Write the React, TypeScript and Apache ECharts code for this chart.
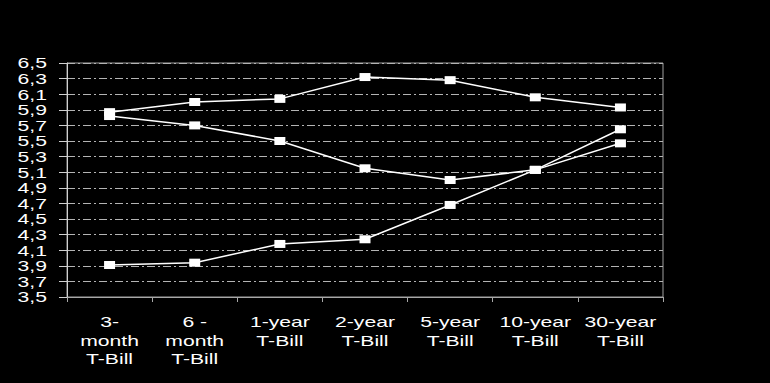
import React, { useEffect, useRef } from "react";
import * as echarts from "echarts";

// Maturities shown on the horizontal axis
const categories = [
  "3-\nmonth\nT-Bill",
  "6 -\nmonth\nT-Bill",
  "1-year\nT-Bill",
  "2-year\nT-Bill",
  "5-year\nT-Bill",
  "10-year\nT-Bill",
  "30-year\nT-Bill",
];

// Yield curves (percent)
const curveUpper = [5.87, 6.0, 6.04, 6.32, 6.28, 6.06, 5.93];
const curveMiddle = [5.82, 5.7, 5.5, 5.15, 5.0, 5.13, 5.47];
const curveLower = [3.91, 3.94, 4.18, 4.24, 4.68, 5.13, 5.65];

// Value axis tick labels (decimal comma)
const yTickLabels = [
  "3,5", "3,7", "3,9", "4,1", "4,3", "4,5", "4,7", "4,9",
  "5,1", "5,3", "5,5", "5,7", "5,9", "6,1", "6,3", "6,5",
];

const FONT_FAMILY = '"Liberation Sans", Arial, Helvetica, sans-serif';
const LABEL_STRETCH = 1.41;

export default function App() {
  const ref = useRef<HTMLDivElement>(null);

  useEffect(() => {
    if (!ref.current) return;
    const chart = echarts.init(ref.current, null, { renderer: "svg" });

    const lineSeries = (data: number[]) => ({
      type: "line",
      data,
      symbol: "rect",
      symbolSize: [11, 8],
      showSymbol: true,
      itemStyle: { color: "#ffffff" },
      lineStyle: { color: "#ffffff", width: 1.5 },
      emphasis: { disabled: true },
    });

    const gridLeft = 67;

    chart.setOption({
      animation: false,
      backgroundColor: "#000000",
      grid: {
        left: gridLeft,
        top: 63,
        width: 596,
        height: 234,
        show: true,
        borderColor: "#a0a0a0",
        borderWidth: 1,
        backgroundColor: "transparent",
      },
      xAxis: {
        type: "category",
        data: categories,
        boundaryGap: true,
        axisLine: { show: true, lineStyle: { color: "#a8a8a8", width: 1 } },
        axisTick: { show: true, length: 5, lineStyle: { color: "#a8a8a8" } },
        axisLabel: { show: false },
        splitLine: { show: false },
      },
      yAxis: {
        type: "value",
        min: 3.5,
        max: 6.5,
        interval: 0.2,
        axisLine: { show: true, lineStyle: { color: "#d0d0d0", width: 1 } },
        axisTick: { show: true, length: 8, lineStyle: { color: "#d0d0d0" } },
        axisLabel: { show: false },
        splitLine: {
          show: true,
          lineStyle: { color: "#b4b4b4", width: 1, type: [8, 3, 2, 3] },
        },
      },
      series: [
        lineSeries(curveUpper),
        lineSeries(curveMiddle),
        lineSeries(curveLower),
      ],
    });

    // Axis labels, drawn as horizontally stretched text at the axis positions
    const textStyle = {
      fill: "#ffffff",
      fontSize: 15,
      fontFamily: FONT_FAMILY,
    };

    const yLabelEls = yTickLabels.map((label) => {
      const value = parseFloat(label.replace(",", "."));
      const py = chart.convertToPixel({ yAxisIndex: 0 }, value) as number;
      return {
        type: "text",
        x: gridLeft - 20,
        y: py,
        scaleX: LABEL_STRETCH,
        silent: true,
        style: {
          ...textStyle,
          text: label,
          align: "right",
          textAlign: "right",
          verticalAlign: "middle",
          textVerticalAlign: "middle",
        },
      };
    });

    const axisBottom = chart.convertToPixel({ yAxisIndex: 0 }, 3.5) as number;
    const xLabelEls = categories.map((cat, i) => {
      const px = chart.convertToPixel({ xAxisIndex: 0 }, i) as number;
      return {
        type: "text",
        x: px,
        y: axisBottom + 15.5,
        scaleX: LABEL_STRETCH,
        silent: true,
        style: {
          ...textStyle,
          text: cat,
          lineHeight: 18.5,
          align: "center",
          textAlign: "center",
          verticalAlign: "top",
          textVerticalAlign: "top",
        },
      };
    });

    chart.setOption({ graphic: { elements: [...yLabelEls, ...xLabelEls] } });

    return () => chart.dispose();
  }, []);

  return (
    <div
      ref={ref}
      style={{ position: "fixed", left: 0, top: 0, width: 770, height: 383 }}
    />
  );
}
